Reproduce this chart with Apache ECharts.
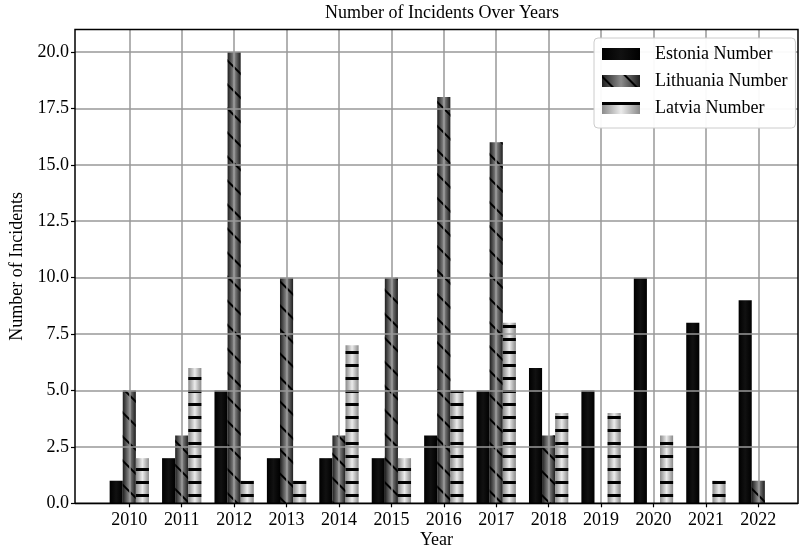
<!DOCTYPE html>
<html>
<head>
<meta charset="utf-8">
<script src="https://cdn.jsdelivr.net/npm/echarts@6/dist/echarts.min.js"></script>
<style>
  html, body { margin: 0; padding: 0; background: #fff; }
  #chart { width: 801px; height: 550px; }
</style>
</head>
<body>
<div id="chart"></div>
<script>
// Incident counts per year for the three Baltic states
const years = ['2010', '2011', '2012', '2013', '2014', '2015', '2016', '2017', '2018', '2019', '2020', '2021', '2022'];
const estonia = [1, 2, 5, 2, 2, 2, 3, 5, 6, 5, 10, 8, 9];
const lithuania = [5, 3, 20, 10, 3, 10, 18, 16, 3, 0, 0, 0, 1];
const latvia = [2, 6, 1, 1, 7, 2, 5, 8, 4, 4, 3, 1, 0];
const yTicks = [0, 2.5, 5, 7.5, 10, 12.5, 15, 17.5, 20];
const yMax = 21;

const FONT = "'Liberation Serif', 'Times New Roman', serif";
const GRID_COLOR = '#999';

function hGradient(edge, mid) {
  return new echarts.graphic.LinearGradient(0, 0, 1, 0, [
    { offset: 0, color: edge },
    { offset: 0.5, color: mid },
    { offset: 1, color: edge }
  ]);
}

const chart = echarts.init(document.getElementById('chart'), null, { renderer: 'canvas' });

const option = {
  animation: false,
  backgroundColor: '#fff',
  title: {
    text: 'Number of Incidents Over Years',
    left: 442,
    textAlign: 'center',
    top: 4,
    padding: 0,
    textStyle: { fontFamily: FONT, fontSize: 18, fontWeight: 'normal', color: '#000' }
  },
  legend: {
    orient: 'vertical',
    left: 594,
    top: 38,
    padding: [7, 8, 11, 8],
    itemGap: 9,
    itemWidth: 38,
    itemHeight: 12,
    icon: 'rect',
    z: 20,
    backgroundColor: 'rgba(255,255,255,0.95)',
    borderColor: '#ccc',
    borderWidth: 1,
    borderRadius: 4,
    textStyle: { fontFamily: FONT, fontSize: 18, lineHeight: 18, color: '#000', padding: [0, 0, 0, 10] },
    data: ['Estonia Number', 'Lithuania Number', 'Latvia Number']
  },
  grid: [
    // frame: full plotting box with border, horizontal grid lines and y labels
    { left: 75, right: 3, top: 29.4, bottom: 46.7, show: true, z: 10,
      outerBoundsMode: 'none', containLabel: false,
      backgroundColor: 'transparent', borderColor: '#000', borderWidth: 1.5 },
    // data area: category centres land on the year ticks
    { left: 129.3, right: 42.7, top: 29.4, bottom: 46.7,
      outerBoundsMode: 'none', containLabel: false }
  ],
  xAxis: [
    {
      gridIndex: 0, type: 'value', min: 0, max: 1,
      axisLine: { show: false }, axisTick: { show: false }, axisLabel: { show: false },
      splitLine: { show: false },
      name: 'Year', nameLocation: 'middle', nameGap: 28,
      nameTextStyle: { fontFamily: FONT, fontSize: 18, color: '#000' }
    },
    {
      gridIndex: 1, type: 'category', data: years, boundaryGap: false, z: 5,
      axisLine: { show: false },
      axisTick: { show: true, length: 4, lineStyle: { color: '#000', width: 1.2 } },
      axisLabel: { interval: 0, margin: 8, fontFamily: FONT, fontSize: 18, color: '#000' },
      splitLine: { show: true, lineStyle: { color: GRID_COLOR, width: 1.5 } }
    }
  ],
  yAxis: [
    {
      gridIndex: 0, type: 'value', min: 0, max: yMax, interval: 2.5, z: 5,
      axisLine: { show: false },
      axisTick: { show: true, length: 4, customValues: yTicks, lineStyle: { color: '#000', width: 1.2 } },
      axisLabel: { margin: 6, customValues: yTicks,
        fontFamily: FONT, fontSize: 18, color: '#000',
        formatter: v => v.toFixed(1) },
      splitLine: { show: true, lineStyle: { color: GRID_COLOR, width: 1.5 } },
      name: 'Number of Incidents', nameLocation: 'middle', nameGap: 39, nameRotate: 90,
      nameTextStyle: { fontFamily: FONT, fontSize: 18, color: '#000' }
    },
    {
      gridIndex: 1, type: 'value', min: 0, max: yMax, interval: 2.5, show: false,
      splitLine: { show: false }
    }
  ],
  series: [
    {
      name: 'Estonia Number', type: 'bar', xAxisIndex: 1, yAxisIndex: 1,
      data: estonia, barWidth: '25%', barGap: '0%', clip: false,
      itemStyle: { color: hGradient('#000', '#111') }
    },
    {
      name: 'Lithuania Number', type: 'bar', xAxisIndex: 1, yAxisIndex: 1,
      data: lithuania, barWidth: '25%', barGap: '0%', clip: false,
      itemStyle: {
        color: hGradient('#1e1e1e', '#8c8c8c'),
        decal: { symbol: 'rect', symbolSize: 1, symbolKeepAspect: false, color: '#000',
          dashArrayX: [1, 0], dashArrayY: [2, 15], rotation: Math.PI / 4 }
      }
    },
    {
      name: 'Latvia Number', type: 'bar', xAxisIndex: 1, yAxisIndex: 1,
      data: latvia, barWidth: '25%', barGap: '0%', clip: false,
      itemStyle: {
        color: hGradient('#8a8a8a', '#ebebeb'),
        decal: { symbol: 'rect', symbolSize: 1, symbolKeepAspect: false, color: '#000',
          dashArrayX: [1, 0], dashArrayY: [2.5, 10], rotation: 0 }
      }
    }
  ]
};

chart.setOption(option);
</script>
</body>
</html>
